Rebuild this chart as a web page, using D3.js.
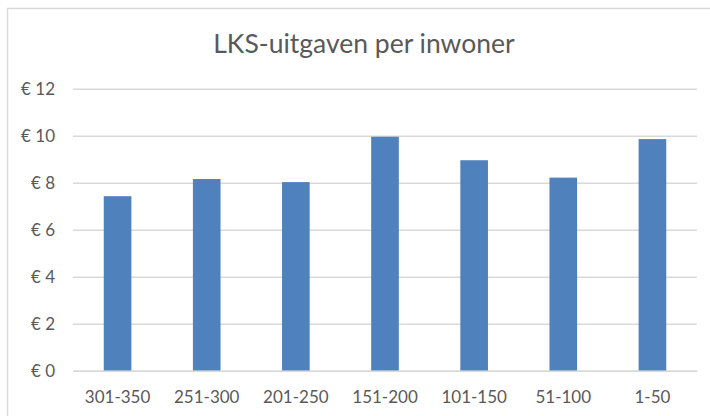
<!DOCTYPE html>
<html>
<head>
<meta charset="utf-8">
<script src="https://cdn.jsdelivr.net/npm/d3@7"></script>
<style>
  body { margin: 0; background: #fff; }
  text { font-family: Lato, "Open Sans", sans-serif; fill: #595959; }
</style>
</head>
<body>
<div id="chart"></div>
<script>
// data
var categories = ['301-350', '251-300', '201-250', '151-200', '101-150', '51-100', '1-50'],
    values = [7.43, 8.16, 8.03, 9.96, 8.96, 8.22, 9.86],
    yTicks = [0, 2, 4, 6, 8, 10, 12];

var w = 710,
    h = 416,
    plotLeft = 73,
    plotRight = 697,
    plotTop = 88.8,
    plotBottom = 370.8,
    barColor = '#4f81bd',
    gridColor = '#d9d9d9';

var svg = d3.select('#chart').append('svg')
    .attr('width', w)
    .attr('height', h);

// chart area border (runs off right/bottom of the picture)
svg.append('rect')
    .attr('x', 7.5)
    .attr('y', 8.5)
    .attr('width', 714)
    .attr('height', 430)
    .attr('fill', '#fff')
    .attr('stroke', gridColor)
    .attr('stroke-width', 1.5);

svg.append('text')
    .attr('x', 364)
    .attr('y', 53)
    .attr('text-anchor', 'middle')
    .style('font-size', '26.5px')
    .text('LKS-uitgaven per inwoner');

var x = d3.scaleBand()
    .domain(categories)
    .range([plotLeft, plotRight])
    .paddingInner(0.69)
    .paddingOuter(0.345);

var y = d3.scaleLinear()
    .domain([0, 12])
    .range([plotBottom, plotTop]);

// y axis with gridlines
var yAxis = svg.append('g')
    .attr('transform', 'translate(' + plotLeft + ',0)')
    .call(d3.axisLeft(y)
        .tickValues(yTicks)
        .tickSizeInner(-(plotRight - plotLeft))
        .tickSizeOuter(0)
        .tickPadding(18)
        .tickFormat(function(d){ return '€ ' + d; }));

yAxis.select('.domain').remove();
yAxis.selectAll('line')
    .attr('stroke', gridColor)
    .attr('stroke-width', 1.5);
yAxis.selectAll('text')
    .style('font-size', '17px')
    .attr('fill', '#595959');

// bars
svg.selectAll('rect.bar')
    .data(values)
  .enter().append('rect')
    .attr('class', 'bar')
    .attr('x', function(d, i){ return x(categories[i]); })
    .attr('width', x.bandwidth())
    .attr('y', function(d){ return y(d); })
    .attr('height', function(d){ return y(0) - y(d); })
    .attr('fill', barColor);

// x axis
var xAxis = svg.append('g')
    .attr('transform', 'translate(0,' + plotBottom + ')')
    .call(d3.axisBottom(x)
        .tickSize(0)
        .tickPadding(20));

xAxis.select('.domain')
    .attr('stroke', gridColor)
    .attr('stroke-width', 1.5);
xAxis.selectAll('text')
    .style('font-size', '17px')
    .attr('fill', '#595959');
</script>
</body>
</html>
